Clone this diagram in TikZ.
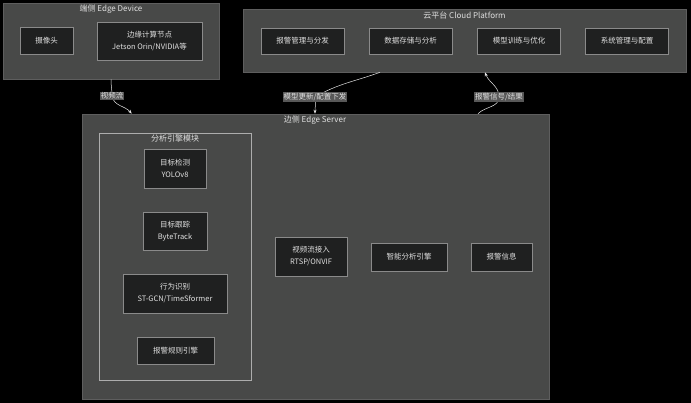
\documentclass[tikz,border=0pt]{standalone}
\usepackage{fontspec}
\setmainfont{Noto Sans CJK SC}
\usepackage{xcolor}
\usepackage{tikz}
\usetikzlibrary{positioning, arrows.meta, calc}
\definecolor{muted}{HTML}{8A8A8A}
\definecolor{clusterFill}{HTML}{484948}
\definecolor{clusterLine}{HTML}{5E5E5E}
\definecolor{boxFill}{HTML}{1F2020}
\definecolor{txtLight}{HTML}{E0E0E0}
\definecolor{lblFill}{HTML}{585858}

\begin{document}
\begin{tikzpicture}[x=1pt, y=-1pt,
  cluster/.style={draw=clusterLine, fill=clusterFill, line width=0.6pt, inner sep=0pt},
  subcluster/.style={draw=muted!70, line width=0.5pt, inner sep=0pt},
  title/.style={text=txtLight, font=\fontsize{8}{9}\selectfont, inner sep=1pt},
  box/.style={draw=muted, fill=boxFill, line width=0.6pt, text=txtLight, align=center, inner sep=0pt, font=\fontsize{7.5}{12}\selectfont},
  flow/.style={draw=txtLight!80, line width=0.5pt},
  tip/.style={-{Stealth[length=4pt, width=3pt]}},
  lbl/.style={fill=lblFill, text=txtLight, font=\fontsize{7.5}{8}\selectfont, inner sep=1pt}]
\fill[black] (0,0) rectangle (691,403);
\useasboundingbox (0,0) rectangle (691,403);

% clusters
\node[cluster, minimum width=216pt, minimum height=76pt] (dev) at (111,41) {};
\node[title] (devT) at (111,9) {端侧 Edge Device};
\node[cluster, minimum width=443pt, minimum height=63pt] (cloud) at (464.5,40.5) {};
\node[title] (cloudT) at (464.5,15) {云平台 Cloud Platform};
\node[cluster, minimum width=467pt, minimum height=285pt] (srv) at (315.5,256.5) {};
\node[title] (srvT) at (315,120) {边侧 Edge Server};
\node[subcluster, minimum width=152pt, minimum height=247pt] (eng) at (175,256.5) {};
\node[title] (engT) at (175,138) {分析引擎模块};

% edge device
\node[box, minimum width=53pt, minimum height=27pt] (cam) at (46.5,40.5) {摄像头};
\node[box, minimum width=105pt, minimum height=38pt] (jet) at (149.5,41) {边缘计算节点\\Jetson Orin/NVIDIA等};

% cloud platform
\foreach \i/\cx/\txt in {1/302.5/报警管理与分发, 2/410.5/数据存储与分析, 3/519/模型训练与优化, 4/627/系统管理与配置}
{\node[box, minimum width=83pt, minimum height=26pt] (c\i) at (\cx,41) {\txt};}

% analysis engine module
\node[box, minimum width=62pt, minimum height=39pt] (det) at (175,168.5) {目标检测\\YOLOv8};
\node[box, minimum width=64pt, minimum height=38pt] (trk) at (175,231) {目标跟踪\\ByteTrack};
\node[box, minimum width=104pt, minimum height=39pt] (act) at (175,293.5) {行为识别\\ST-GCN/TimeSformer};
\node[box, minimum width=77pt, minimum height=27pt] (rule) at (175.5,350.5) {报警规则引擎};

% edge server
\node[box, minimum width=72pt, minimum height=39pt] (rtsp) at (311,256.5) {视频流接入\\RTSP/ONVIF};
\node[box, minimum width=76pt, minimum height=28pt] (ai) at (409,257) {智能分析引擎};
\node[box, minimum width=61pt, minimum height=28pt] (alarm) at (501.5,257) {报警信息};

% connectors (labels sit on top)
\coordinate (l1) at (112,96);
\coordinate (l2) at (315,97);
\coordinate (l3) at (499,97);
\draw[flow] (dev.south) to[out=-90, in=90] (l1);
\draw[flow, tip] (l1) to[out=-80, in=130] ([xshift=50pt]srv.north west);
\draw[flow] ([xshift=-84.5pt]cloud.south) to[out=200, in=30] (l2);
\draw[flow, tip] (l2) to[out=-80, in=90] ([xshift=-0.5pt]srv.north);
\draw[flow] ([xshift=162.5pt]srv.north) to[out=45, in=-90] (l3);
\draw[flow, tip] (l3) to[out=90, in=-70] ([xshift=20.5pt]cloud.south);
\node[lbl] (lab1) at (l1) {视频流};
\node[lbl] (lab2) at (l2) {模型更新/配置下发};
\node[lbl] (lab3) at (l3) {报警信号/结果};
\end{tikzpicture}
\end{document}
